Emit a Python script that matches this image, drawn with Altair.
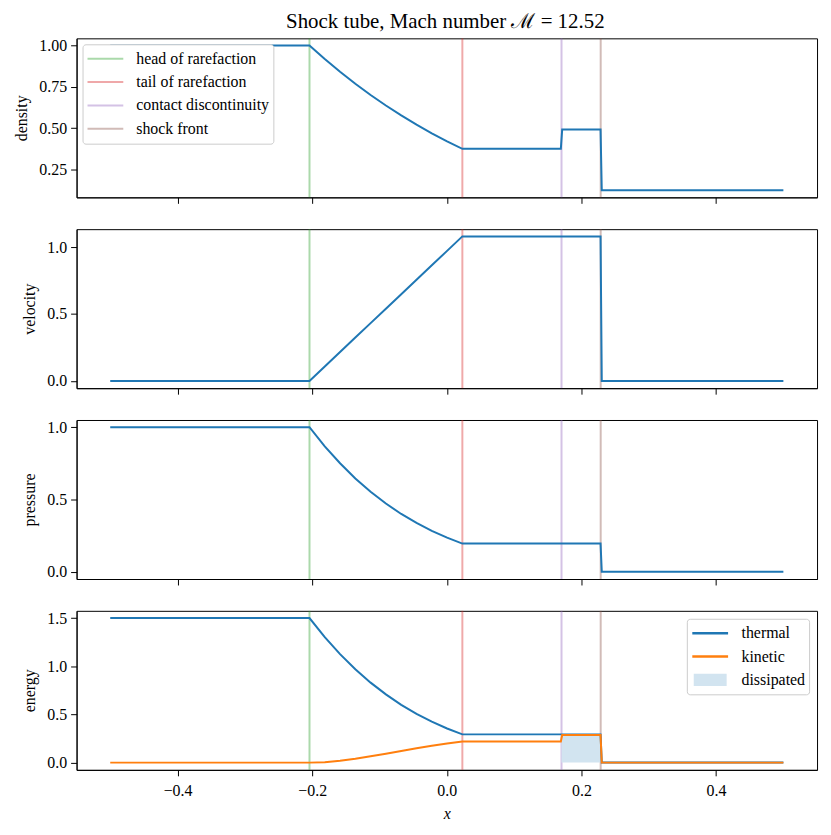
import altair as alt
import pandas as pd

# ---- data ----
x_pts = [-0.5, -0.204, -0.1813, -0.1586, -0.1359, -0.1132, -0.0905, -0.0677,
         -0.045, -0.0223, 0.0004, 0.0231, 0.1694, 0.1714, 0.2284, 0.2302, 0.5]
density = [1.0, 1.0, 0.919, 0.842, 0.769, 0.701, 0.637, 0.577, 0.521, 0.469,
           0.420, 0.375, 0.375, 0.492, 0.492, 0.125, 0.125]
velocity = [0.0, 0.0, 0.108, 0.216, 0.324, 0.432, 0.540, 0.648, 0.756, 0.864,
            0.972, 1.080, 1.080, 1.080, 1.080, 0.0, 0.0]
pressure = [1.0, 1.0, 0.868, 0.751, 0.646, 0.554, 0.472, 0.400, 0.338, 0.283,
            0.236, 0.195, 0.195, 0.195, 0.195, 0.001, 0.001]
thermal = [1.5, 1.5, 1.302, 1.126, 0.969, 0.830, 0.708, 0.600, 0.506, 0.425,
           0.354, 0.293, 0.293, 0.293, 0.293, 0.0015, 0.0015]
kinetic = [0.0, 0.0, 0.005, 0.020, 0.040, 0.065, 0.093, 0.121, 0.149, 0.175,
           0.198, 0.219, 0.219, 0.287, 0.287, 0.0, 0.0]

event_names = ["head of rarefaction", "tail of rarefaction",
               "contact discontinuity", "shock front"]
event_x = [-0.204, 0.0231, 0.1704, 0.2286]
event_colors = ["#2ca02c", "#d62728", "#9467bd", "#8c564b"]

energy_names = ["thermal", "kinetic", "dissipated"]
energy_colors = ["#1f77b4", "#ff7f0e", "#d2e4f0"]
diss_x = [0.1704, 0.2286]
diss_top = [0.29, 0.29]

x_ticks = [-0.4, -0.2, 0.0, 0.2, 0.4]
title_text = "Shock tube, Mach number ℳ = 12.52"

# ---- styling ----
FONT = "Liberation Serif"
FS = 16
W, H = 745, 160
BLUE, ORANGE, FILL = energy_colors
# legend key glyphs (stroked): a single line, and a stack of lines forming a patch
LINE_KEY = "M-1,0L1,0"
PATCH_KEY = ("M-0.92,-0.27L0.92,-0.27M-0.92,-0.18L0.92,-0.18"
             "M-0.92,-0.09L0.92,-0.09M-0.92,0L0.92,0"
             "M-0.92,0.09L0.92,0.09M-0.92,0.18L0.92,0.18"
             "M-0.92,0.27L0.92,0.27")
key_shapes = [LINE_KEY, LINE_KEY, PATCH_KEY]

n = len(x_pts)
df = pd.DataFrame({"x": x_pts, "density": density, "velocity": velocity,
                   "pressure": pressure, "thermal": thermal,
                   "kinetic": kinetic})
diss_df = pd.DataFrame({"x": diss_x, "top": diss_top})
keys_df = pd.DataFrame({"series": energy_names, "x": [0.0] * 3, "y": [0.0] * 3})
events_df = pd.DataFrame({"pos": event_x, "event": event_names,
                          "hex": event_colors})

xscale = alt.Scale(domain=[-0.55, 0.55], nice=False, zero=False)


def xaxis(bottom):
    if bottom:
        return alt.Axis(values=x_ticks, format=".1f", title="x",
                        titleFontStyle="italic", labelPadding=7, titlePadding=7)
    return alt.Axis(values=x_ticks, labels=False, title=None)


def yaxis(title, ticks, fmt):
    return alt.Axis(title=title, values=ticks, format=fmt, titlePadding=9,
                    labelPadding=4)


def legend_common(**kw):
    return alt.Legend(title=None, labelFont=FONT,
                      labelFontSize=FS, labelColor="black", fillColor="white",
                      strokeColor="#cccccc", cornerRadius=3, padding=4,
                      labelOffset=12, clipHeight=21, rowPadding=2.5,
                      symbolSize=1296, **kw)


def rules(ax, legend=None):
    if legend is None:
        color = alt.Color("hex:N", scale=None)
        mark = alt.Chart(events_df).mark_rule(strokeWidth=2, strokeOpacity=0.4)
    else:
        color = alt.Color("event:N",
                          scale=alt.Scale(domain=event_names,
                                          range=event_colors),
                          legend=legend)
        mark = alt.Chart(events_df).mark_rule(strokeWidth=2, opacity=0.4)
    return mark.encode(x=alt.X("pos:Q", scale=xscale, axis=ax), color=color)


def panel(field, title, domain, ticks, fmt, legend=None):
    ax = xaxis(False)
    line = alt.Chart(df).mark_line(color=BLUE, strokeWidth=2).encode(
        x=alt.X("x:Q", scale=xscale, axis=ax),
        y=alt.Y(f"{field}:Q",
                scale=alt.Scale(domain=domain, nice=False, zero=False),
                axis=yaxis(title, ticks, fmt)))
    return alt.layer(rules(ax, legend), line).properties(width=W, height=H)


leg1 = legend_common(orient="top-left", offset=6, symbolType="stroke",
                     symbolStrokeWidth=2, symbolOpacity=0.4)
p1 = panel("density", "density", [0.08125, 1.04375], [0.25, 0.5, 0.75, 1.0],
           ".2f", leg1)
p2 = panel("velocity", "velocity", [-0.054, 1.134], [0.0, 0.5, 1.0], ".1f")
p3 = panel("pressure", "pressure", [-0.05, 1.05], [0.0, 0.5, 1.0], ".1f")

# energy panel
ax4 = xaxis(True)
escale = alt.Scale(domain=[-0.075, 1.575], nice=False, zero=False)
eaxis = yaxis("energy", [0.0, 0.5, 1.0, 1.5], ".1f")
ecolor = alt.Scale(domain=energy_names, range=energy_colors)
leg4 = legend_common(orient="top-right", offset=8, symbolOpacity=1,
                     symbolStrokeWidth=2.5)
ex = alt.X("x:Q", scale=xscale, axis=ax4)
area = alt.Chart(diss_df).mark_area(color=FILL, opacity=1).encode(
    x=ex, y=alt.Y("top:Q", scale=escale, axis=eaxis), y2=alt.datum(0))
th_line = alt.Chart(df).mark_line(color=BLUE, strokeWidth=2).encode(
    x=ex, y=alt.Y("thermal:Q", scale=escale, axis=eaxis))
ki_line = alt.Chart(df).mark_line(color=ORANGE, strokeWidth=2).encode(
    x=ex, y=alt.Y("kinetic:Q", scale=escale, axis=eaxis))
keys = alt.Chart(keys_df).mark_point(filled=False, size=0, opacity=1).encode(
    x=ex,
    y=alt.Y("y:Q", scale=escale, axis=eaxis),
    color=alt.Color("series:N", scale=ecolor, legend=leg4),
    shape=alt.Shape("series:N",
                    scale=alt.Scale(domain=energy_names, range=key_shapes),
                    legend=leg4))
p4 = alt.layer(keys, rules(ax4), area, th_line, ki_line).properties(
    width=W, height=H)

chart = alt.vconcat(p1, p2, p3, p4, spacing=23).resolve_scale(
    color="independent", shape="independent"
).properties(
    title=alt.TitleParams(title_text, font=FONT, fontSize=21,
                          fontWeight="normal", anchor="middle", offset=5,
                          dx=30, color="black"),
    padding={"left": 5, "top": 0, "right": 5, "bottom": 5}
).configure_view(
    stroke="black", strokeWidth=1
).configure_axis(
    labelFont=FONT, labelFontSize=FS, labelColor="black",
    titleFont=FONT, titleFontSize=FS, titleFontWeight="normal",
    titleColor="black", domainColor="black", tickColor="black",
    grid=False, tickSize=6, tickWidth=1, domainWidth=1
)

chart.save("out.html", embed_options={"renderer": "svg", "actions": False})
